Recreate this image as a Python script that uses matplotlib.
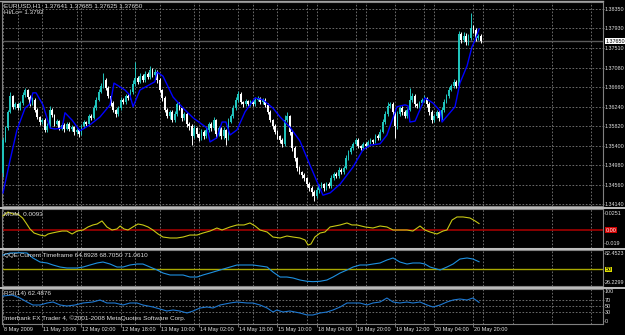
import matplotlib
matplotlib.use("Agg")
import matplotlib.pyplot as plt
import matplotlib.transforms as mtransforms

plt.rcParams["font.family"] = ["Liberation Sans", "DejaVu Sans"]

# ---- EURUSD H1 candles (bar index 0 = first bar on screen) ----
first_open = 1.3481
closes = [
    1.3552, 1.3578, 1.3613, 1.3647, 1.3624, 1.3630, 1.3621, 1.3632, 1.3649, 1.3660,
    1.3645, 1.3630, 1.3639, 1.3617, 1.3602, 1.3591, 1.3595, 1.3574, 1.3582, 1.3617,
    1.3606, 1.3587, 1.3593, 1.3578, 1.3585, 1.3576, 1.3587, 1.3576, 1.3580, 1.3570,
    1.3574, 1.3565, 1.3582, 1.3591, 1.3587, 1.3604, 1.3600, 1.3621, 1.3639, 1.3656,
    1.3669, 1.3682, 1.3665, 1.3647, 1.3632, 1.3617, 1.3608, 1.3621, 1.3639, 1.3634,
    1.3647, 1.3643, 1.3656, 1.3673, 1.3686, 1.3678, 1.3690, 1.3682, 1.3695, 1.3688,
    1.3703, 1.3693, 1.3699, 1.3682, 1.3660, 1.3643, 1.3617, 1.3604, 1.3613, 1.3595,
    1.3608, 1.3630, 1.3621, 1.3600, 1.3608, 1.3587, 1.3582, 1.3561, 1.3578, 1.3565,
    1.3557, 1.3570, 1.3561, 1.3574, 1.3587, 1.3578, 1.3595, 1.3565, 1.3578, 1.3561,
    1.3574, 1.3557, 1.3591, 1.3604, 1.3621, 1.3639, 1.3652, 1.3634, 1.3630, 1.3636,
    1.3630, 1.3634, 1.3630, 1.3639, 1.3643, 1.3634, 1.3639, 1.3628, 1.3613, 1.3595,
    1.3582, 1.3570, 1.3561, 1.3552, 1.3544, 1.3595, 1.3604, 1.3570, 1.3535, 1.3513,
    1.3492, 1.3483, 1.3477, 1.3470, 1.3457, 1.3449, 1.3440, 1.3431, 1.3444, 1.3453,
    1.3457, 1.3449, 1.3457, 1.3453, 1.3470, 1.3479, 1.3474, 1.3487, 1.3483, 1.3492,
    1.3513, 1.3526, 1.3535, 1.3544, 1.3552, 1.3539, 1.3535, 1.3544, 1.3539, 1.3548,
    1.3552, 1.3548, 1.3561, 1.3557, 1.3570, 1.3591, 1.3608, 1.3626, 1.3630, 1.3613,
    1.3582, 1.3608, 1.3621, 1.3613, 1.3604, 1.3617, 1.3639, 1.3647, 1.3630, 1.3626,
    1.3632, 1.3639, 1.3643, 1.3630, 1.3613, 1.3595, 1.3604, 1.3613, 1.3600, 1.3617,
    1.3634, 1.3647, 1.3660, 1.3669, 1.3678, 1.3669, 1.3781, 1.3768, 1.3777, 1.3764,
    1.3773, 1.3794, 1.3790, 1.3773, 1.3777, 1.3765,
]
# wick lengths above / below the body, in pips
up_wick = [
    6, 5, 4, 8, 3, 4, 3, 5, 6, 4, 3, 4, 5, 3, 4, 3, 5, 4, 6, 8,
    4, 3, 5, 3, 4, 3, 5, 3, 4, 3, 4, 3, 5, 4, 3, 5, 4, 6, 5, 7,
    6, 14, 5, 4, 3, 4, 3, 5, 6, 4, 5, 4, 6, 8, 35, 5, 6, 4, 7, 5,
    8, 4, 6, 5, 4, 3, 4, 5, 3, 4, 6, 5, 4, 3, 5, 4, 3, 4, 6, 3,
    3, 5, 4, 6, 5, 4, 7, 3, 5, 3, 6, 3, 8, 5, 6, 7, 5, 4, 3, 4,
    3, 4, 3, 5, 4, 3, 4, 3, 3, 4, 3, 4, 3, 3, 4, 12, 8, 3, 3, 4,
    3, 4, 3, 4, 3, 4, 3, 5, 6, 4, 5, 3, 4, 5, 6, 4, 5, 6, 4, 5,
    6, 5, 4, 3, 5, 4, 3, 4, 3, 5, 4, 3, 5, 4, 6, 7, 6, 8, 5, 4,
    4, 6, 5, 4, 3, 5, 26, 6, 4, 3, 5, 4, 6, 3, 4, 3, 4, 5, 3, 6,
    6, 5, 6, 5, 6, 4, 6, 5, 8, 6, 7, 32, 6, 4, 5, 3,
]
dn_wick = [
    8, 4, 5, 3, 4, 5, 4, 3, 4, 3, 5, 4, 3, 5, 4, 6, 4, 5, 4, 3,
    5, 4, 3, 5, 4, 6, 3, 5, 4, 6, 5, 7, 3, 4, 5, 3, 4, 3, 4, 3,
    3, 4, 5, 4, 6, 5, 7, 4, 3, 5, 4, 5, 3, 4, 4, 5, 3, 5, 4, 5,
    4, 5, 3, 6, 5, 6, 4, 5, 6, 4, 5, 3, 4, 6, 5, 6, 8, 20, 5, 6,
    7, 5, 6, 4, 5, 6, 4, 8, 5, 7, 6, 15, 4, 3, 4, 3, 4, 5, 6, 4,
    5, 4, 5, 4, 3, 5, 4, 5, 4, 5, 6, 5, 6, 7, 6, 4, 5, 8, 6, 7,
    6, 5, 6, 7, 6, 7, 8, 10, 5, 6, 5, 6, 5, 4, 4, 5, 4, 3, 4, 4,
    3, 4, 5, 4, 3, 5, 4, 5, 4, 3, 5, 4, 3, 5, 4, 3, 4, 3, 5, 6,
    26, 5, 4, 6, 5, 4, 3, 5, 6, 5, 4, 5, 4, 6, 7, 6, 5, 4, 6, 5,
    4, 3, 4, 3, 4, 5, 3, 6, 5, 6, 7, 4, 6, 7, 5, 4,
]

# ---- moving average (blue), read at bar positions ----
ma_x = [0, 2.9, 5.7, 9, 11, 12.2, 13.5, 16.3, 19.2, 21.2, 24.1, 25.3, 28.2, 31.4, 35.5,
        39.6, 43.7, 45.3, 49.8, 51.8, 53.1, 55.9, 62, 62.9, 65.3, 69.4, 73.5, 77.6, 83.3,
        84.5, 87.3, 89.4, 91, 92.7, 95.5, 98.8, 102.9, 106.1, 110.2, 113.1, 117.1, 121.2,
        125.3, 128.2, 130.6, 133.5, 137.6, 142.9, 146.9, 149.8, 153.9, 156.7, 160.8, 164.1,
        165.3, 166.1, 168.2, 172.2, 175.5, 178.4, 179.2, 182.4, 184.5, 186.5, 189.4, 191.4,
        192.7, 194.3]
ma_y = [1.3438, 1.3509, 1.3574, 1.3621, 1.3630, 1.3654, 1.3654, 1.3628, 1.3578, 1.3576,
        1.3578, 1.3611, 1.3595, 1.3572, 1.3585, 1.3602, 1.3628, 1.3675, 1.3660, 1.3649,
        1.3624, 1.3660, 1.3678, 1.3699, 1.3690, 1.3645, 1.3621, 1.3600, 1.3578, 1.3548,
        1.3557, 1.3591, 1.3591, 1.3563, 1.3574, 1.3613, 1.3643, 1.3639, 1.3621, 1.3602,
        1.3580, 1.3550, 1.3498, 1.3462, 1.3433, 1.3438, 1.3457, 1.3494, 1.3531, 1.3541,
        1.3544, 1.3563, 1.3624, 1.3628, 1.3626, 1.3591, 1.3593, 1.3643, 1.3632, 1.3615,
        1.3591, 1.3611, 1.3624, 1.3675, 1.3712, 1.3753, 1.3768, 1.3792]

# ---- MOM ----
mom_x = [0, 2, 4, 6, 8, 9.4, 11, 12.7, 15.1, 17.1, 18.4, 20, 22, 24.1, 26.1, 28.2, 30.2,
         32.7, 34.7, 36.7, 38.4, 40.4, 42.4, 44.5, 46.5, 47.8, 49.4, 51, 53, 55.1, 57.1,
         59.2, 61.2, 63.3, 65.3, 68.2, 71, 73.5, 76.3, 79.2, 81.6, 84.5, 87.3, 89.4, 92.7,
         95.5, 98.4, 100.8, 102.9, 104.9, 107.8, 110.2, 113.1, 115.9, 118.4, 121.2, 123.3,
         124.5, 125.7, 127.3, 129.4, 131.4, 133.5, 135.5, 137.6, 140.4, 142.4, 144.5, 147.8,
         151, 153.9, 156.7, 159.2, 162, 164.9, 167.3, 170.2, 172.2, 174.3, 177.1, 179.6,
         181.2, 183.3, 185.3, 187.8, 190.6, 192.7, 194.3]
mom_y = [0.0203, 0.0261, 0.0232, 0.0232, 0.0174, 0.0102, 0.0015, -0.0044, -0.0073, -0.0087,
         -0.0058, -0.0044, -0.0029, -0.0015, -0.0015, -0.0058, -0.0015, 0.0, 0.0044, 0.0073,
         0.0087, 0.0131, 0.0044, 0.0, 0.0015, 0.0058, 0.0015, 0.0, 0.0044, 0.0087, 0.0073,
         0.0044, 0.0, -0.0058, -0.0102, -0.0116, -0.0116, -0.0102, -0.0073, -0.0073, -0.0044,
         -0.0015, 0.0029, 0.0, 0.0044, 0.0073, 0.0073, 0.0102, 0.0058, 0.0, -0.0029, -0.0102,
         -0.0116, -0.0087, -0.0102, -0.0116, -0.0145, -0.0218, -0.0203, -0.0102, -0.0044,
         -0.0029, 0.0044, 0.0058, 0.0073, 0.0102, 0.0073, 0.0073, 0.0044, 0.0029, 0.0058,
         0.0044, 0.0, 0.0, 0.0, -0.0015, 0.0058, 0.0, -0.0029, -0.0058, -0.0015, 0.0, 0.0145,
         0.0189, 0.0189, 0.0174, 0.0131, 0.0093]

# ---- QQE ----
qqe_x = [0, 2.9, 6.9, 9.8, 12.2, 15.1, 18, 20.4, 23.3, 26.1, 30.2, 32.7, 35.5, 38.4, 40.8,
         43.7, 46.5, 49, 51.8, 54.7, 57.1, 60, 62.9, 65.3, 68.2, 71, 73.5, 76.3, 79.2, 81.6,
         84.5, 88.6, 92.7, 95.5, 99.6, 102, 104.9, 107.8, 110.2, 113.1, 115.9, 118.4, 121.2,
         124.1, 126.5, 129.4, 132.2, 134.7, 137.6, 140.4, 142.9, 145.7, 148.6, 151, 153.9,
         156.7, 159.2, 162, 164.9, 167.3, 170.2, 172.2, 174.3, 177.1, 178.4, 181.2, 183.7,
         186.5, 189.4, 191.8, 194.3]
qqe_y = [78.0, 81.9, 82.4, 81.9, 72.2, 64.4, 62.5, 58.6, 54.7, 52.8, 52.8, 54.7, 58.6, 62.5,
         64.4, 60.5, 54.7, 54.7, 58.6, 60.5, 60.5, 54.7, 48.9, 43.1, 39.2, 39.2, 39.2, 35.3,
         35.3, 39.2, 43.1, 48.9, 54.7, 58.6, 58.6, 58.6, 56.7, 54.7, 45.0, 35.3, 35.3, 33.4,
         29.5, 27.0, 26.3, 27.0, 29.5, 35.3, 43.1, 48.9, 54.7, 58.6, 58.6, 60.5, 62.5, 68.3,
         72.2, 64.4, 60.5, 62.5, 62.5, 60.5, 54.7, 50.8, 48.9, 54.7, 60.5, 70.2, 72.2, 70.2,
         64.9]

# ---- RSI(14) ----
rsi_x = [0, 3.7, 6.9, 9.8, 12.2, 15.1, 18, 20.4, 23.3, 26.1, 29.4, 32.7, 36.7, 39.6, 42.4,
         45.7, 49, 51.8, 54.7, 57.1, 61.2, 64.1, 66.9, 69.4, 72.2, 75.1, 77.6, 80.4, 83.3,
         85.7, 88.6, 92.7, 95.5, 99.6, 102, 104.9, 107.8, 110.2, 111.8, 114.3, 117.1, 121.2,
         124.1, 126.5, 129.4, 132.2, 134.7, 137.6, 140.4, 142.9, 145.7, 148.6, 151, 153.9,
         156.7, 159.2, 162, 164.9, 167.3, 170.2, 173.1, 175.5, 178.4, 181.2, 183.7, 186.5,
         189.4, 191.8, 194.3]
rsi_y = [83.5, 86.8, 76.9, 63.7, 53.8, 53.8, 60.4, 63.7, 53.8, 50.5, 53.8, 60.4, 63.7, 70.3,
         60.4, 60.4, 53.8, 60.4, 60.4, 53.8, 47.2, 40.6, 34.0, 37.3, 34.0, 27.4, 34.0, 43.9,
         47.2, 43.9, 53.8, 60.4, 63.7, 60.4, 60.4, 53.8, 43.9, 30.7, 37.3, 30.7, 34.0, 27.4,
         20.8, 20.8, 27.4, 30.7, 37.3, 47.2, 60.4, 60.4, 60.4, 53.8, 60.4, 63.7, 76.9, 63.7,
         60.4, 63.7, 60.4, 63.7, 53.8, 47.2, 53.8, 63.7, 70.3, 73.6, 70.3, 76.9, 62.5]

price_ticks = [1.38350, 1.37930, 1.37510, 1.37080, 1.36660, 1.36240,
               1.35820, 1.35400, 1.34980, 1.34560, 1.34140]
time_idx = [0, 16, 32, 48, 64, 80, 96, 112, 128, 144, 160, 176, 192]
time_labels = ["8 May 2009", "11 May 10:00", "12 May 02:00", "12 May 18:00",
               "13 May 10:00", "14 May 02:00", "14 May 18:00", "15 May 10:00",
               "18 May 04:00", "18 May 20:00", "19 May 12:00", "20 May 04:00",
               "20 May 20:00"]
day_breaks = [6, 30, 54, 78, 102, 124, 148, 172, 196]
grid_idx = [16 * k for k in range(16)]

W, H = 625, 335
BG = "#000000"
GRID = "#7a7a7a"
TXT = "#e0e0e0"
FS = 4.6     # panel texts
FST = 4.0    # time axis labels
FSR = 3.9    # right-hand scale labels

fig = plt.figure(figsize=(W / 100, H / 100), dpi=100, facecolor=BG)


def panel(top, bottom):
    ax = fig.add_axes([2 / W, 1 - bottom / H, 601 / W, (bottom - top) / H])
    ax.set_facecolor(BG)
    ax.set_xlim(-0.41, 244.9)
    ax.yaxis.tick_right()
    ax.tick_params(axis="y", colors="#808080", labelcolor=TXT, labelsize=FSR,
                   length=1.0, width=0.6, pad=0.4)
    ax.tick_params(axis="x", bottom=False, labelbottom=False)
    for s in ax.spines.values():
        s.set_color("#808080")
        s.set_linewidth(0.8)
    for x in grid_idx + day_breaks:
        ax.axvline(x, color=GRID, lw=0.6, ls=(0, (2, 2)), zorder=0)
    return ax


main = panel(2, 206)
mom = panel(209, 248)
qqe = panel(250, 286)
rsi = panel(289, 324)

# main chart
main.set_ylim(1.34097, 1.38501)
main.set_yticks(price_ticks)
main.set_yticklabels([f"{p:.5f}" for p in price_ticks])
for p in price_ticks:
    main.axhline(p, color=GRID, lw=0.6, ls=(0, (2, 2)), zorder=0)

opens = [first_open] + closes[:-1]
idx = list(range(len(closes)))
highs = [max(o, c) + u * 0.0001 for o, c, u in zip(opens, closes, up_wick)]
lows = [min(o, c) - d * 0.0001 for o, c, d in zip(opens, closes, dn_wick)]
cols = ["#20c4bc" if c >= o else "#ffffff" for o, c in zip(opens, closes)]
bodies = [max(abs(c - o), 0.00006) for o, c in zip(opens, closes)]
bottoms = [min(o, c) for o, c in zip(opens, closes)]
main.vlines(idx, lows, highs, colors=cols, lw=0.7, zorder=2)
main.bar(idx, bodies, bottom=bottoms, width=0.7, color=cols, lw=0, zorder=3)
main.plot(ma_x, ma_y, color="#0000ff", lw=1.0, zorder=4)
main.axhline(closes[-1], color="#5a5a5a", lw=1.0, zorder=1)

yb = mtransforms.blended_transform_factory(main.transAxes, main.transData)
main.text(1.004, closes[-1], f"{closes[-1]:.5f}", transform=yb, fontsize=FSR,
          color="black", va="center", ha="left",
          bbox=dict(facecolor="white", edgecolor="none", pad=0.4), zorder=6)

# MOM
mom.set_ylim(-0.0261, 0.03045)
mom.set_yticks([0.0251, -0.019])
mom.set_yticklabels(["0.0251", "-0.019"])
mom.axhline(0, color="#a00000", lw=1.2, zorder=1)
mom.plot(mom_x, mom_y, color="#c8c814", lw=0.8, zorder=3)
yb = mtransforms.blended_transform_factory(mom.transAxes, mom.transData)
mom.text(1.004, 0, "0.00", transform=yb, fontsize=FSR, color="white", va="center",
         ha="left", bbox=dict(facecolor="#d00000", edgecolor="none", pad=0.3))

# QQE
qqe.set_ylim(17.88, 87.69)
qqe.set_yticks([82.4523, 26.2299])
qqe.set_yticklabels(["82.4523", "26.2299"])
qqe.axhline(50, color="#a8a800", lw=1.0, zorder=1)
qqe.plot(qqe_x, qqe_y, color="#1e90e0", lw=0.8, zorder=3)
yb = mtransforms.blended_transform_factory(qqe.transAxes, qqe.transData)
qqe.text(1.004, 50, "50", transform=yb, fontsize=FSR, color="black", va="center",
         ha="left", bbox=dict(facecolor="#e0e000", edgecolor="none", pad=0.3))

# RSI
rsi.set_ylim(-8.9, 106.6)
rsi.set_yticks([100, 70, 50, 30, 0])
rsi.set_yticklabels(["100", "70", "50", "30", "0"])
for lv in (70, 50, 30):
    rsi.axhline(lv, color=GRID, lw=0.6, ls=(0, (2, 2)), zorder=0)
rsi.plot(rsi_x, rsi_y, color="#1e78d0", lw=0.8, zorder=3)
rsi.set_xticks(time_idx)
rsi.tick_params(axis="x", bottom=True, length=2, width=0.6, colors="#808080")
xb = mtransforms.blended_transform_factory(rsi.transData, rsi.transAxes)
for i, lab in zip(time_idx, time_labels):
    rsi.text(i + 0.4, -0.17, lab, transform=xb, fontsize=FST, color=TXT,
             ha="left", va="center")

# panel separators
for y in (207.5, 249, 287.5):
    fig.add_artist(plt.Line2D([0, 1], [1 - y / H] * 2, color="#c0c0c0", lw=1.4))
fig.add_artist(plt.Line2D([0, 603 / W], [1 - 1 / H] * 2, color="#a0a0a0", lw=1.0))


def ftext(x, y, s):
    fig.text(x / W, 1 - y / H, s, fontsize=FS, color=TXT, va="center", ha="left")


ftext(4, 6, "EURUSD,H1  1.37641 1.37685 1.37625 1.37650")
ftext(4, 13, "Hi/Lo= 1.3792")
ftext(4, 214, "MOM  0.0093")
ftext(4, 255, "QQE Current Timeframe 64.8928 68.7050 71.0610")
ftext(4, 294, "RSI(14) 62.4876")
ftext(4, 318, "Interbank FX Trader 4, \u00a92001-2008 MetaQuotes Software Corp.")

fig.savefig("out.png", dpi=100, facecolor=BG)
